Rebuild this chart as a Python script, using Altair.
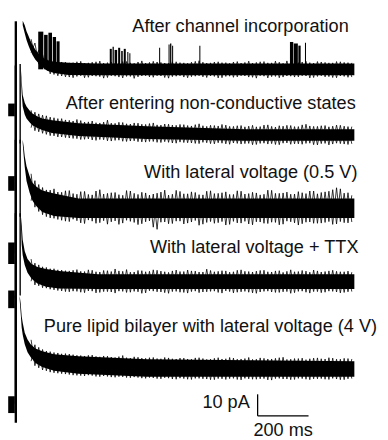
import altair as alt
import pandas as pd

# ---------------- data (time in ms, current in pA) ----------------
labels = [
    "After channel incorporation",
    "After entering non-conductive states",
    "With lateral voltage (0.5 V)",
    "With lateral voltage + TTX",
    "Pure lipid bilayer with lateral voltage (4 V)",
]
# display offset of each trace (pA)
offsets = [170.0, 139.5, 105.5, 71.4, 30.9]

# decaying envelope of each trace after the capacitive transient (relative pA)
env_t = [
    [27, 35, 42, 50, 58, 65, 77, 88, 104, 123, 150, 208, 323, 1330],
    [19, 23, 27, 35, 42, 54, 65, 85, 104, 142, 246, 515, 900, 1330],
    [27, 31, 35, 42, 54, 65, 81, 104, 150, 246, 1330],
    [19, 23, 27, 35, 46, 62, 85, 119, 169, 323, 1330],
    [15, 19, 23, 27, 35, 46, 58, 77, 104, 150, 246, 515, 1330],
]
env_hi = [
    [22.5, 20.5, 17.7, 15.5, 13.2, 11.4, 9.1, 7.3, 5.5, 4.3, 3.5, 3.0, 2.7, 2.7],
    [32.3, 25.0, 18.6, 15.0, 13.2, 11.4, 10.0, 8.6, 7.7, 6.8, 5.5, 4.1, 2.7, 2.7],
    [31.8, 28.6, 24.1, 19.5, 15.0, 11.8, 10.0, 8.2, 6.8, 4.5, 4.5],
    [31.8, 26.4, 19.5, 14.1, 10.5, 8.2, 6.8, 5.9, 5.0, 3.4, 3.4],
    [34.1, 30.5, 24.5, 21.4, 16.8, 13.6, 11.4, 9.5, 8.2, 6.8, 5.9, 4.5, 3.6],
]
env_lo = [
    [20.5, 16.8, 13.6, 10.9, 8.6, 6.8, 4.5, 3.0, 1.2, -0.7, -1.7, -2.6, -2.7, -2.7],
    [30.5, 19.5, 13.2, 9.5, 7.7, 5.9, 4.5, 3.2, 2.3, 0.9, -0.5, -1.8, -2.7, -2.7],
    [30.0, 24.1, 19.1, 12.7, 7.3, 3.6, 0.9, -1.8, -3.6, -4.5, -4.5],
    [30.0, 17.3, 12.3, 7.7, 4.1, 1.4, -0.9, -2.3, -3.2, -3.4, -3.4],
    [32.3, 25.9, 19.1, 15.9, 11.4, 7.7, 5.5, 2.7, 0.9, -0.9, -2.3, -3.6, -3.6],
]

# sampled noise excursions (relative pA), two interleaved sweeps per trace
t_noise = [60, 75, 90, 105, 120, 135, 150, 165, 180, 195,
           210, 225, 240, 255, 270, 285, 300, 315, 330, 345,
           360, 375, 390, 405, 420, 435, 450, 465, 480, 495,
           510, 525, 540, 555, 570, 585, 600, 615, 630, 645,
           660, 675, 690, 705, 720, 735, 750, 765, 780, 795,
           810, 825, 840, 855, 870, 885, 900, 915, 930, 945,
           960, 975, 990, 1005, 1020, 1035, 1050, 1065, 1080, 1095,
           1110, 1125, 1140, 1155, 1170, 1185, 1200, 1215, 1230, 1245,
           1260, 1275, 1290, 1305, 1320]
noise_a = [
    [14.0, 5.6, 8.8, 0.3, 5.4, -2.1, 4.0, -3.0, 3.4, -3.5,
     3.0, -3.9, 3.5, -3.0, 2.9, -3.7, 3.3, -3.2, 3.8, -4.1,
     3.1, -3.0, 2.8, -3.6, 3.6, -3.3, 3.0, -4.2, 3.4, -3.1,
     2.9, -3.5, 3.7, -3.0, 3.2, -3.8, 2.8, -3.4, 3.5, -3.0,
     3.0, -3.9, 3.3, -3.2, 4.0, -3.5, 2.9, -3.1, 3.4, -4.0,
     3.1, -3.3, 2.8, -3.7, 3.6, -3.0, 3.2, -3.6, 2.9, -4.1,
     3.5, -3.2, 3.0, -3.4, 3.8, -3.9, 2.8, -3.1, 3.3, -3.6,
     3.1, -3.0, 3.7, -4.0, 2.9, -3.3, 3.4, -3.5, 3.0, -3.8,
     3.6, -3.1, 3.2, -3.7, 3.0],
    [11.5, 2.0, 9.8, 0.8, 8.9, -0.3, 8.0, -0.9, 7.6, -1.2,
     6.8, -1.6, 7.2, -2.1, 6.0, -1.8, 6.5, -2.5, 5.6, -2.2,
     6.9, -2.8, 5.4, -2.4, 5.8, -3.0, 5.1, -2.7, 5.5, -3.2,
     4.9, -3.0, 5.6, -3.4, 4.6, -3.1, 5.0, -3.7, 4.5, -3.3,
     4.8, -3.6, 4.2, -3.9, 5.2, -3.4, 4.0, -4.0, 4.4, -3.6,
     4.9, -4.1, 4.0, -3.7, 4.3, -4.2, 3.8, -3.9, 4.5, -4.4,
     3.9, -3.8, 4.7, -4.0, 3.7, -4.5, 4.1, -3.7, 4.4, -4.1,
     3.9, -4.3, 5.0, -3.8, 4.0, -4.6, 4.3, -3.9, 3.8, -4.2,
     4.6, -4.0, 4.1, -4.4, 3.9],
    [16.0, 0.5, 11.0, -3.0, 8.5, -4.5, 9.0, -5.2, 7.4, -6.0,
     8.2, -5.1, 6.5, -6.8, 7.8, -5.5, 6.2, -7.0, 8.6, -5.8,
     6.9, -6.3, 7.3, -7.5, 6.0, -5.6, 8.0, -6.6, 6.4, -7.2,
     7.1, -5.9, 6.6, -9.8, 7.5, -6.4, 6.1, -7.1, 8.3, -6.0,
     6.7, -6.9, 7.6, -5.7, 6.3, -7.4, 7.9, -6.2, 6.8, -6.7,
     7.2, -7.8, 6.4, -6.1, 8.1, -6.9, 6.6, -7.3, 7.4, -6.3,
     6.2, -7.0, 8.4, -6.5, 6.9, -7.7, 7.1, -6.0, 6.5, -6.8,
     7.7, -7.2, 6.8, -6.4, 8.0, -7.0, 7.3, -6.6, 7.9, -7.5,
     9.5, -6.2, 7.0, -6.8, 6.0],
    [10.5, -1.5, 7.8, -2.8, 6.6, -3.5, 6.0, -4.1, 5.4, -4.6,
     5.0, -4.4, 5.6, -4.9, 4.7, -4.3, 5.3, -5.2, 4.5, -4.6,
     5.1, -4.8, 5.9, -4.4, 4.8, -5.0, 4.4, -4.5, 5.2, -5.4,
     4.6, -4.2, 5.5, -4.7, 4.9, -5.1, 4.3, -4.6, 5.4, -4.9,
     4.7, -5.3, 5.0, -4.4, 4.5, -4.8, 5.8, -4.5, 4.6, -5.0,
     5.1, -4.3, 4.4, -5.2, 5.3, -4.7, 4.8, -4.9, 4.5, -5.4,
     5.2, -4.5, 4.6, -4.8, 5.0, -5.0, 4.3, -4.6, 5.5, -5.1,
     4.7, -4.4, 4.9, -5.3, 5.4, -4.6, 4.5, -4.9, 5.0, -4.5,
     4.8, -5.2, 4.6, -4.7, 4.4],
    [13.5, 1.5, 10.0, -0.5, 8.3, -1.5, 7.6, -2.0, 7.0, -2.4,
     6.9, -2.9, 6.3, -3.1, 6.0, -2.9, 6.4, -3.5, 5.6, -3.3,
     5.9, -3.8, 5.3, -3.6, 6.2, -4.0, 5.0, -3.8, 5.4, -4.3,
     4.9, -4.0, 5.3, -4.5, 4.7, -4.1, 5.1, -4.7, 4.6, -4.3,
     5.0, -4.8, 4.5, -4.4, 5.2, -4.6, 4.4, -5.0, 4.9, -4.5,
     4.6, -4.9, 5.3, -4.4, 4.5, -5.1, 4.8, -4.6, 4.4, -4.8,
     5.1, -4.5, 4.6, -5.2, 4.9, -4.4, 5.4, -4.7, 4.5, -4.9,
     4.8, -4.5, 4.3, -5.0, 5.0, -4.6, 4.7, -4.8, 5.2, -4.4,
     4.5, -5.0, 4.9, -4.6, 4.6],
]
noise_b = [
    [7.8, 12.2, 2.4, 7.0, -0.2, 4.6, -2.4, 3.8, -3.1, 3.3,
     -3.6, 3.1, -3.3, 3.7, -3.9, 3.0, -3.1, 3.5, -3.4, 2.9,
     -3.8, 3.4, -3.2, 3.0, -4.0, 3.6, -3.3, 2.8, -3.5, 3.9,
     -3.0, 3.2, -3.7, 3.4, -3.1, 2.9, -4.1, 3.5, -3.2, 3.1,
     -3.6, 2.8, -3.4, 3.7, -3.0, 3.3, -3.8, 3.0, -3.3, 3.5,
     -3.9, 3.1, -3.2, 3.4, -3.5, 2.9, -3.1, 3.8, -3.7, 3.2,
     -3.0, 3.6, -4.0, 3.0, -3.3, 3.3, -3.6, 3.9, -3.2, 2.9,
     -3.5, 3.4, -3.1, 3.1, -3.8, 3.6, -3.0, 3.2, -3.4, 3.0,
     -3.9, 3.5, -3.3, 3.1, -3.6],
    [3.4, 10.6, 1.5, 9.2, 0.3, 8.3, -0.4, 7.6, -0.9, 7.0,
     -1.4, 6.5, -1.7, 6.7, -2.0, 6.1, -2.3, 5.7, -2.1, 6.0,
     -2.7, 5.5, -2.5, 5.9, -2.9, 5.2, -2.8, 5.6, -3.1, 5.0,
     -3.3, 5.3, -3.0, 4.7, -3.5, 5.1, -3.4, 4.6, -3.8, 4.9,
     -3.5, 4.4, -3.7, 4.8, -4.0, 4.3, -3.6, 4.5, -4.1, 4.2,
     -3.8, 4.6, -4.3, 4.0, -3.9, 4.4, -4.0, 4.1, -4.5, 3.8,
     -3.9, 4.6, -4.2, 4.0, -4.4, 4.3, -3.8, 4.5, -4.3, 3.9,
     -4.1, 4.7, -3.9, 4.2, -4.5, 4.0, -4.0, 4.4, -4.6, 4.1,
     -3.8, 4.5, -4.2, 3.9, -4.1],
    [3.5, 12.8, -1.5, 9.6, -3.9, 8.4, -4.7, 7.5, -5.6, 8.1,
     -6.2, 6.8, -5.8, 7.7, -7.1, 6.4, -6.0, 8.0, -6.7, 6.6,
     -7.4, 7.2, -5.9, 6.3, -6.9, 8.2, -6.1, 6.9, -7.6, 7.4,
     -6.3, 6.1, -8.8, 7.0, -6.5, 8.4, -7.2, 6.5, -6.0, 7.8,
     -7.3, 6.7, -6.4, 7.3, -7.9, 6.2, -6.6, 8.1, -7.0, 6.9,
     -6.2, 7.6, -7.5, 6.4, -6.8, 7.9, -6.1, 6.8, -7.7, 7.1,
     -6.4, 6.5, -7.1, 8.3, -6.6, 6.9, -7.4, 7.5, -6.3, 6.6,
     -7.8, 7.2, -6.5, 8.0, -7.0, 6.7, -6.9, 7.6, -6.2, 8.6,
     -7.3, 9.0, -6.7, 7.2, -6.4],
    [0.2, 8.6, -1.9, 6.9, -3.0, 6.0, -3.8, 5.5, -4.3, 5.1,
     -4.7, 5.3, -4.5, 4.8, -5.1, 5.5, -4.4, 4.6, -5.0, 5.2,
     -4.6, 4.7, -5.3, 5.0, -4.5, 5.6, -4.9, 4.5, -4.7, 5.1,
     -5.2, 4.8, -4.4, 5.3, -4.8, 4.6, -5.4, 5.0, -4.5, 4.7,
     -5.0, 5.4, -4.6, 4.9, -5.1, 4.5, -4.7, 5.2, -4.4, 4.8,
     -5.3, 5.0, -4.6, 4.6, -4.9, 5.5, -4.5, 4.7, -5.2, 4.9,
     -4.8, 5.3, -4.4, 4.5, -5.0, 5.1, -4.7, 4.8, -5.4, 4.6,
     -4.5, 5.2, -4.9, 4.4, -4.6, 5.0, -5.1, 4.7, -4.4, 5.3,
     -4.8, 4.6, -5.0, 4.9, -4.6],
    [3.6, 11.2, 0.5, 9.0, -0.9, 8.0, -1.8, 7.4, -2.2, 7.1,
     -2.6, 6.6, -3.0, 6.2, -3.3, 6.3, -3.1, 5.8, -3.6, 6.0,
     -3.5, 5.5, -3.9, 5.7, -3.7, 5.2, -4.1, 5.6, -4.0, 5.0,
     -4.4, 5.2, -4.2, 4.8, -4.6, 5.3, -4.3, 4.7, -4.8, 5.0,
     -4.5, 4.6, -4.9, 5.1, -4.4, 4.8, -4.7, 4.5, -5.0, 5.2,
     -4.6, 4.7, -4.5, 5.0, -4.9, 4.6, -4.4, 5.3, -4.8, 4.5,
     -4.6, 4.9, -5.1, 4.6, -4.5, 5.2, -4.7, 4.4, -5.0, 4.8,
     -4.4, 5.0, -4.8, 4.7, -4.6, 5.1, -4.5, 4.6, -4.9, 5.0,
     -4.7, 4.5, -5.0, 4.8, -4.5],
]

# capacitive transient at t = 0 (relative pA)
tr_top = [22.3, 32.3, 31.8, 31.8, 34.1]
tr_bot = [-50.0, -55.0, -41.8, -56.8, -25.0]
# return edge of the transient (trace index, t, top, bottom)
rise_trace = [1, 2, 3]
rise_t = [17, 17, 17]
rise_top = [33.0, 31.8, 31.8]
rise_bot = [-4.0, -4.0, -6.4]

# holding-current segment before the pulse
pre_t0, pre_t1 = -30, -4
pre_hi = [-15.9, -19.1, -15.9, -4.1, -12.7]
pre_lo = [-21.8, -25.9, -25.9, -12.3, -20.5]

# single-channel openings in the first trace (start ms, end ms, amplitude pA)
open_t0 = [88, 111, 128, 145, 160, 369, 380, 388, 402, 414, 424, 438, 446,
           563, 600, 606, 614, 721, 1077, 1092, 1110, 1136]
open_t1 = [108, 125, 142, 158, 172, 377, 385, 398, 410, 420, 432, 442, 450,
           567, 604, 611, 618, 725, 1090, 1108, 1119, 1140]
open_amp = [17.5, 16.0, 17.0, 15.0, 13.0, 9.5, 10.5, 9.0, 10.0, 8.5, 9.5, 8.0, 7.5,
            10.0, 11.5, 12.0, 11.0, 11.0, 12.7, 12.0, 11.0, 12.3]

# scale bar
sb_t, sb_ms = 950, 200
sb_v, sb_pa = 9.1, 10

# label anchor positions (ms, pA)
lab_t = [457.7, 196.2, 503.8, 526.9, 110.0]
lab_v = [187.3, 151.8, 119.5, 84.5, 48.2]

# ---------------- tables ----------------
env_rows, noise_rows, rule_rows, rect_rows = [], [], [], []
for i, off in enumerate(offsets):
    for t, h, l in zip(env_t[i], env_hi[i], env_lo[i]):
        env_rows.append({"trace": i, "t": t, "hi": off + h, "lo": off + l})
    for t, v in zip(t_noise, noise_a[i]):
        noise_rows.append({"sweep": f"{i}a", "t": t, "v": off + v})
    for t, v in zip(t_noise, noise_b[i]):
        noise_rows.append({"sweep": f"{i}b", "t": t, "v": off + v})
    rule_rows.append({"t": 0, "t2": 0, "v": off + tr_top[i], "v2": off + tr_bot[i], "w": 2.4})
    rect_rows.append({"t": pre_t0, "t2": pre_t1, "v": off + pre_hi[i], "v2": off + pre_lo[i]})
for k, i in enumerate(rise_trace):
    off = offsets[i]
    rule_rows.append({"t": rise_t[k], "t2": rise_t[k], "v": off + rise_top[k],
                      "v2": off + rise_bot[k], "w": 1.4})
for a, b, amp in zip(open_t0, open_t1, open_amp):
    rect_rows.append({"t": a, "t2": b, "v": offsets[0], "v2": offsets[0] + amp})
# scale bar rules
rule_rows.append({"t": sb_t, "t2": sb_t, "v": sb_v, "v2": sb_v + sb_pa, "w": 1.3})
rule_rows.append({"t": sb_t, "t2": sb_t + sb_ms, "v": sb_v, "v2": sb_v, "w": 1.3})

env_df = pd.DataFrame(env_rows)
noise_df = pd.DataFrame(noise_rows)
rule_df = pd.DataFrame(rule_rows)
rect_df = pd.DataFrame(rect_rows)
text_df = pd.DataFrame({"t": lab_t, "v": lab_v, "label": labels})
sb_left = pd.DataFrame({"t": [sb_t - 31], "v": [sb_v + 3.6], "label": [f"{sb_pa} pA"]})
sb_below = pd.DataFrame({"t": [sb_t + sb_ms / 2], "v": [sb_v - 9.3], "label": [f"{sb_ms} ms"]})

X = alt.Scale(domain=[-30.77, 1430.77], nice=False, zero=False)
Y = alt.Scale(domain=[0, 196.36], nice=False, zero=False)
FONT = "Liberation Sans"
FS = 18.5

env = alt.Chart(env_df).mark_area(color="black", interpolate="linear", opacity=1).encode(
    x=alt.X("t:Q", scale=X, axis=None),
    y=alt.Y("hi:Q", scale=Y, axis=None, stack=None),
    y2="lo:Q",
    detail="trace:N",
)
nz = alt.Chart(noise_df).mark_line(color="black", strokeWidth=0.8).encode(
    x=alt.X("t:Q", scale=X, axis=None),
    y=alt.Y("v:Q", scale=Y, axis=None),
    detail="sweep:N",
    order="t:Q",
)
rules = alt.Chart(rule_df).mark_rule(color="black").encode(
    x=alt.X("t:Q", scale=X, axis=None),
    x2="t2:Q",
    y=alt.Y("v:Q", scale=Y, axis=None),
    y2="v2:Q",
    strokeWidth=alt.StrokeWidth("w:Q", scale=None),
)
rects = alt.Chart(rect_df).mark_rect(color="black").encode(
    x=alt.X("t:Q", scale=X, axis=None),
    x2="t2:Q",
    y=alt.Y("v:Q", scale=Y, axis=None),
    y2="v2:Q",
)
texts = alt.Chart(text_df).mark_text(
    align="left", baseline="alphabetic", font=FONT, fontSize=FS, color="#111"
).encode(
    x=alt.X("t:Q", scale=X, axis=None),
    y=alt.Y("v:Q", scale=Y, axis=None),
    text="label:N",
)
sbt_r = alt.Chart(sb_left).mark_text(
    align="right", baseline="alphabetic", font=FONT, fontSize=FS, color="#111"
).encode(x=alt.X("t:Q", scale=X, axis=None), y=alt.Y("v:Q", scale=Y, axis=None), text="label:N")
sbt_c = alt.Chart(sb_below).mark_text(
    align="center", baseline="alphabetic", font=FONT, fontSize=FS, color="#111"
).encode(x=alt.X("t:Q", scale=X, axis=None), y=alt.Y("v:Q", scale=Y, axis=None), text="label:N")

chart = alt.layer(env, nz, rects, rules, texts, sbt_r, sbt_c).properties(
    width=380, height=432,
    autosize=alt.AutoSizeParams(type="none"),
    padding=0,
    background="white",
).configure_view(stroke=None)

chart.save("out.html", embed_options={"renderer": "svg", "actions": False})
